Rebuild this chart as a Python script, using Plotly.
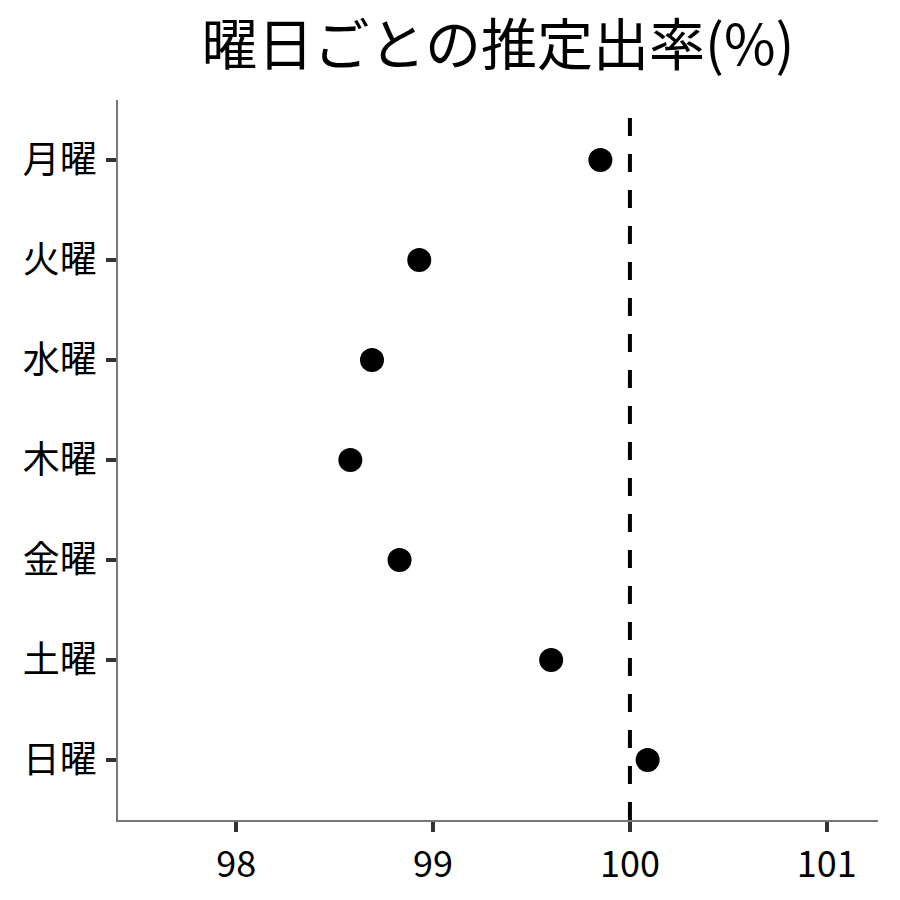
import plotly.graph_objects as go

# ── Data ──
days = ["月曜", "火曜", "水曜", "木曜", "金曜", "土曜", "日曜"]
rates = [99.85, 98.93, 98.69, 98.58, 98.83, 99.60, 100.09]
x_ticks = [98, 99, 100, 101]
ref_line = 100

FONT = "Noto Sans CJK JP"

fig = go.Figure()

# ── Estimated rates ──
fig.add_trace(go.Scatter(
    x=rates,
    y=days,
    mode="markers",
    marker=dict(size=24, color="black"),
    showlegend=False,
))

# ── Reference line at 100% ──
fig.add_vline(
    x=ref_line,
    line=dict(color="black", width=4, dash="18px,18px"),
)

fig.update_layout(
    title=dict(
        text="曜日ごとの推定出率(%)",
        x=0.5, xref="paper", xanchor="center",
        y=0.958, yref="container", yanchor="middle",
        font=dict(family=FONT, size=56, color="black"),
    ),
    xaxis=dict(
        range=[97.4, 101.26],
        tickvals=x_ticks,
        ticks="outside", ticklen=10, tickwidth=3.5, tickcolor="#333333",
        showline=True, linecolor="#777777", linewidth=1.5,
        showgrid=False, zeroline=False,
        ticklabelstandoff=2,
        tickfont=dict(family=FONT, size=36, color="black"),
    ),
    yaxis=dict(
        categoryorder="array", categoryarray=days,
        range=[6.6, -0.6],
        ticks="outside", ticklen=10, tickwidth=3.5, tickcolor="#333333",
        showline=True, linecolor="#777777", linewidth=1.5,
        showgrid=False, zeroline=False,
        ticklabelstandoff=2,
        tickfont=dict(family=FONT, size=37, color="black"),
    ),
    paper_bgcolor="white",
    plot_bgcolor="white",
    margin=dict(l=110, r=30, t=92, b=88),
    width=900, height=900,
)

fig.write_html("out.html")
